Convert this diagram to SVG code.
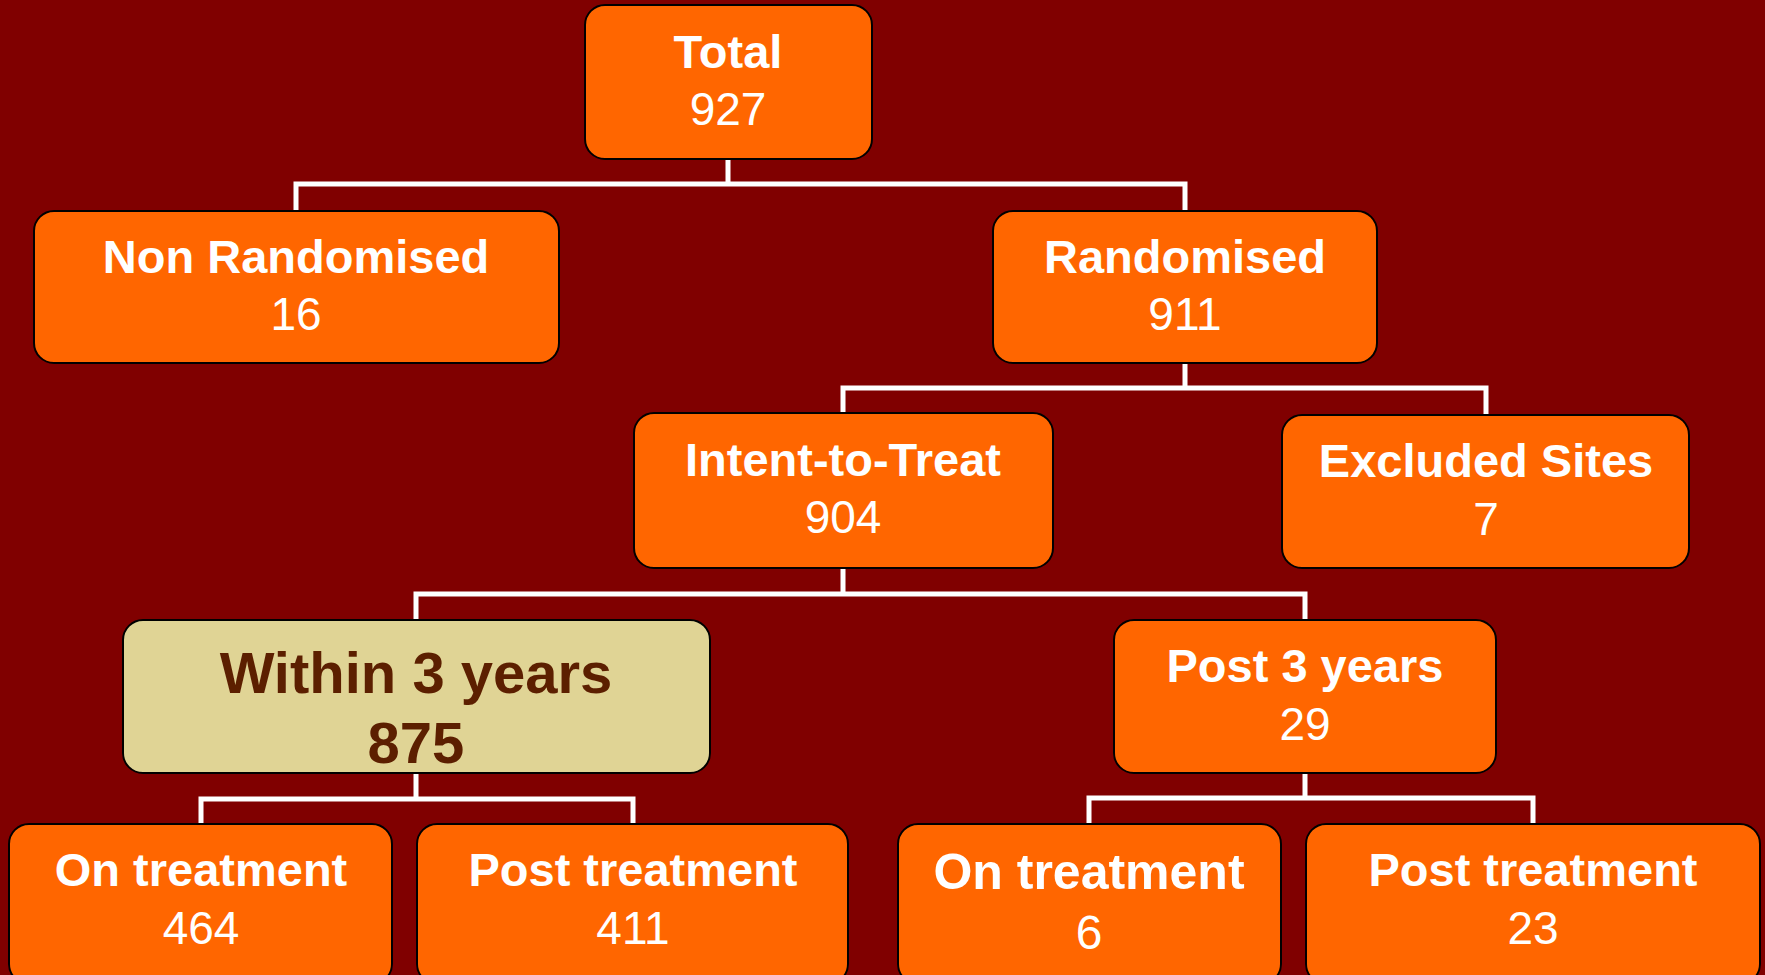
<svg xmlns="http://www.w3.org/2000/svg" width="1765" height="975" viewBox="0 0 1765 975">
<style>
.box{fill:#FF6600;stroke:#000;stroke-width:2}
.hl{fill:#E0D495;stroke:#000;stroke-width:2}
.t{font-family:"Liberation Sans",Arial,sans-serif;font-weight:bold;font-size:47px;fill:#fff;text-anchor:middle}
.n{font-family:"Liberation Sans",Arial,sans-serif;font-size:46px;fill:#fff;text-anchor:middle}
.ht{font-family:"Liberation Sans",Arial,sans-serif;font-weight:bold;font-size:58px;fill:#5C1F00;text-anchor:middle}
.c{fill:none;stroke:#fff;stroke-width:5}
</style>
<rect width="1765" height="975" fill="#800000"/>
<g id="connectors">
<path class="c" d="M728 159V184M296 211V184H1185V211"/>
<path class="c" d="M1185 363V388M843 413V388H1486V415"/>
<path class="c" d="M843 568V594M416 620V594H1305V620"/>
<path class="c" d="M416 773V799M201 824V799H633V824"/>
<path class="c" d="M1305 773V798M1089 824V798H1533V824"/>
</g>
<g id="total"><rect class="box" x="585" y="5" width="287" height="154" rx="20"/><text class="t" x="728" y="68">Total</text><text class="n" x="728" y="125">927</text></g>
<g id="nonrand"><rect class="box" x="34" y="211" width="525" height="152" rx="20"/><text class="t" x="296" y="273">Non Randomised</text><text class="n" x="296" y="330">16</text></g>
<g id="rand"><rect class="box" x="993" y="211" width="384" height="152" rx="20"/><text class="t" x="1185" y="273">Randomised</text><text class="n" x="1185" y="330">911</text></g>
<g id="itt"><rect class="box" x="634" y="413" width="419" height="155" rx="20"/><text class="t" x="843" y="476">Intent-to-Treat</text><text class="n" x="843" y="533">904</text></g>
<g id="excluded"><rect class="box" x="1282" y="415" width="407" height="153" rx="20"/><text class="t" x="1486" y="477">Excluded Sites</text><text class="n" x="1486" y="535">7</text></g>
<g id="within"><rect class="hl" x="123" y="620" width="587" height="153" rx="20"/><text class="ht" x="416" y="693">Within 3 years</text><text class="ht" x="416" y="763">875</text></g>
<g id="post3"><rect class="box" x="1114" y="620" width="382" height="153" rx="20"/><text class="t" x="1305" y="682">Post 3 years</text><text class="n" x="1305" y="740">29</text></g>
<g id="ontreat1"><rect class="box" x="9" y="824" width="383" height="160" rx="20"/><text class="t" x="201" y="886">On treatment</text><text class="n" x="201" y="944">464</text></g>
<g id="posttreat1"><rect class="box" x="417" y="824" width="431" height="160" rx="20"/><text class="t" x="633" y="886">Post treatment</text><text class="n" x="633" y="944">411</text></g>
<g id="ontreat2"><rect class="box" x="898" y="824" width="383" height="160" rx="20"/><text class="t" x="1089" y="889" style="font-size:50px">On treatment</text><text class="n" x="1089" y="949" style="font-size:48px">6</text></g>
<g id="posttreat2"><rect class="box" x="1306" y="824" width="454" height="160" rx="20"/><text class="t" x="1533" y="886">Post treatment</text><text class="n" x="1533" y="944">23</text></g>
</svg>
